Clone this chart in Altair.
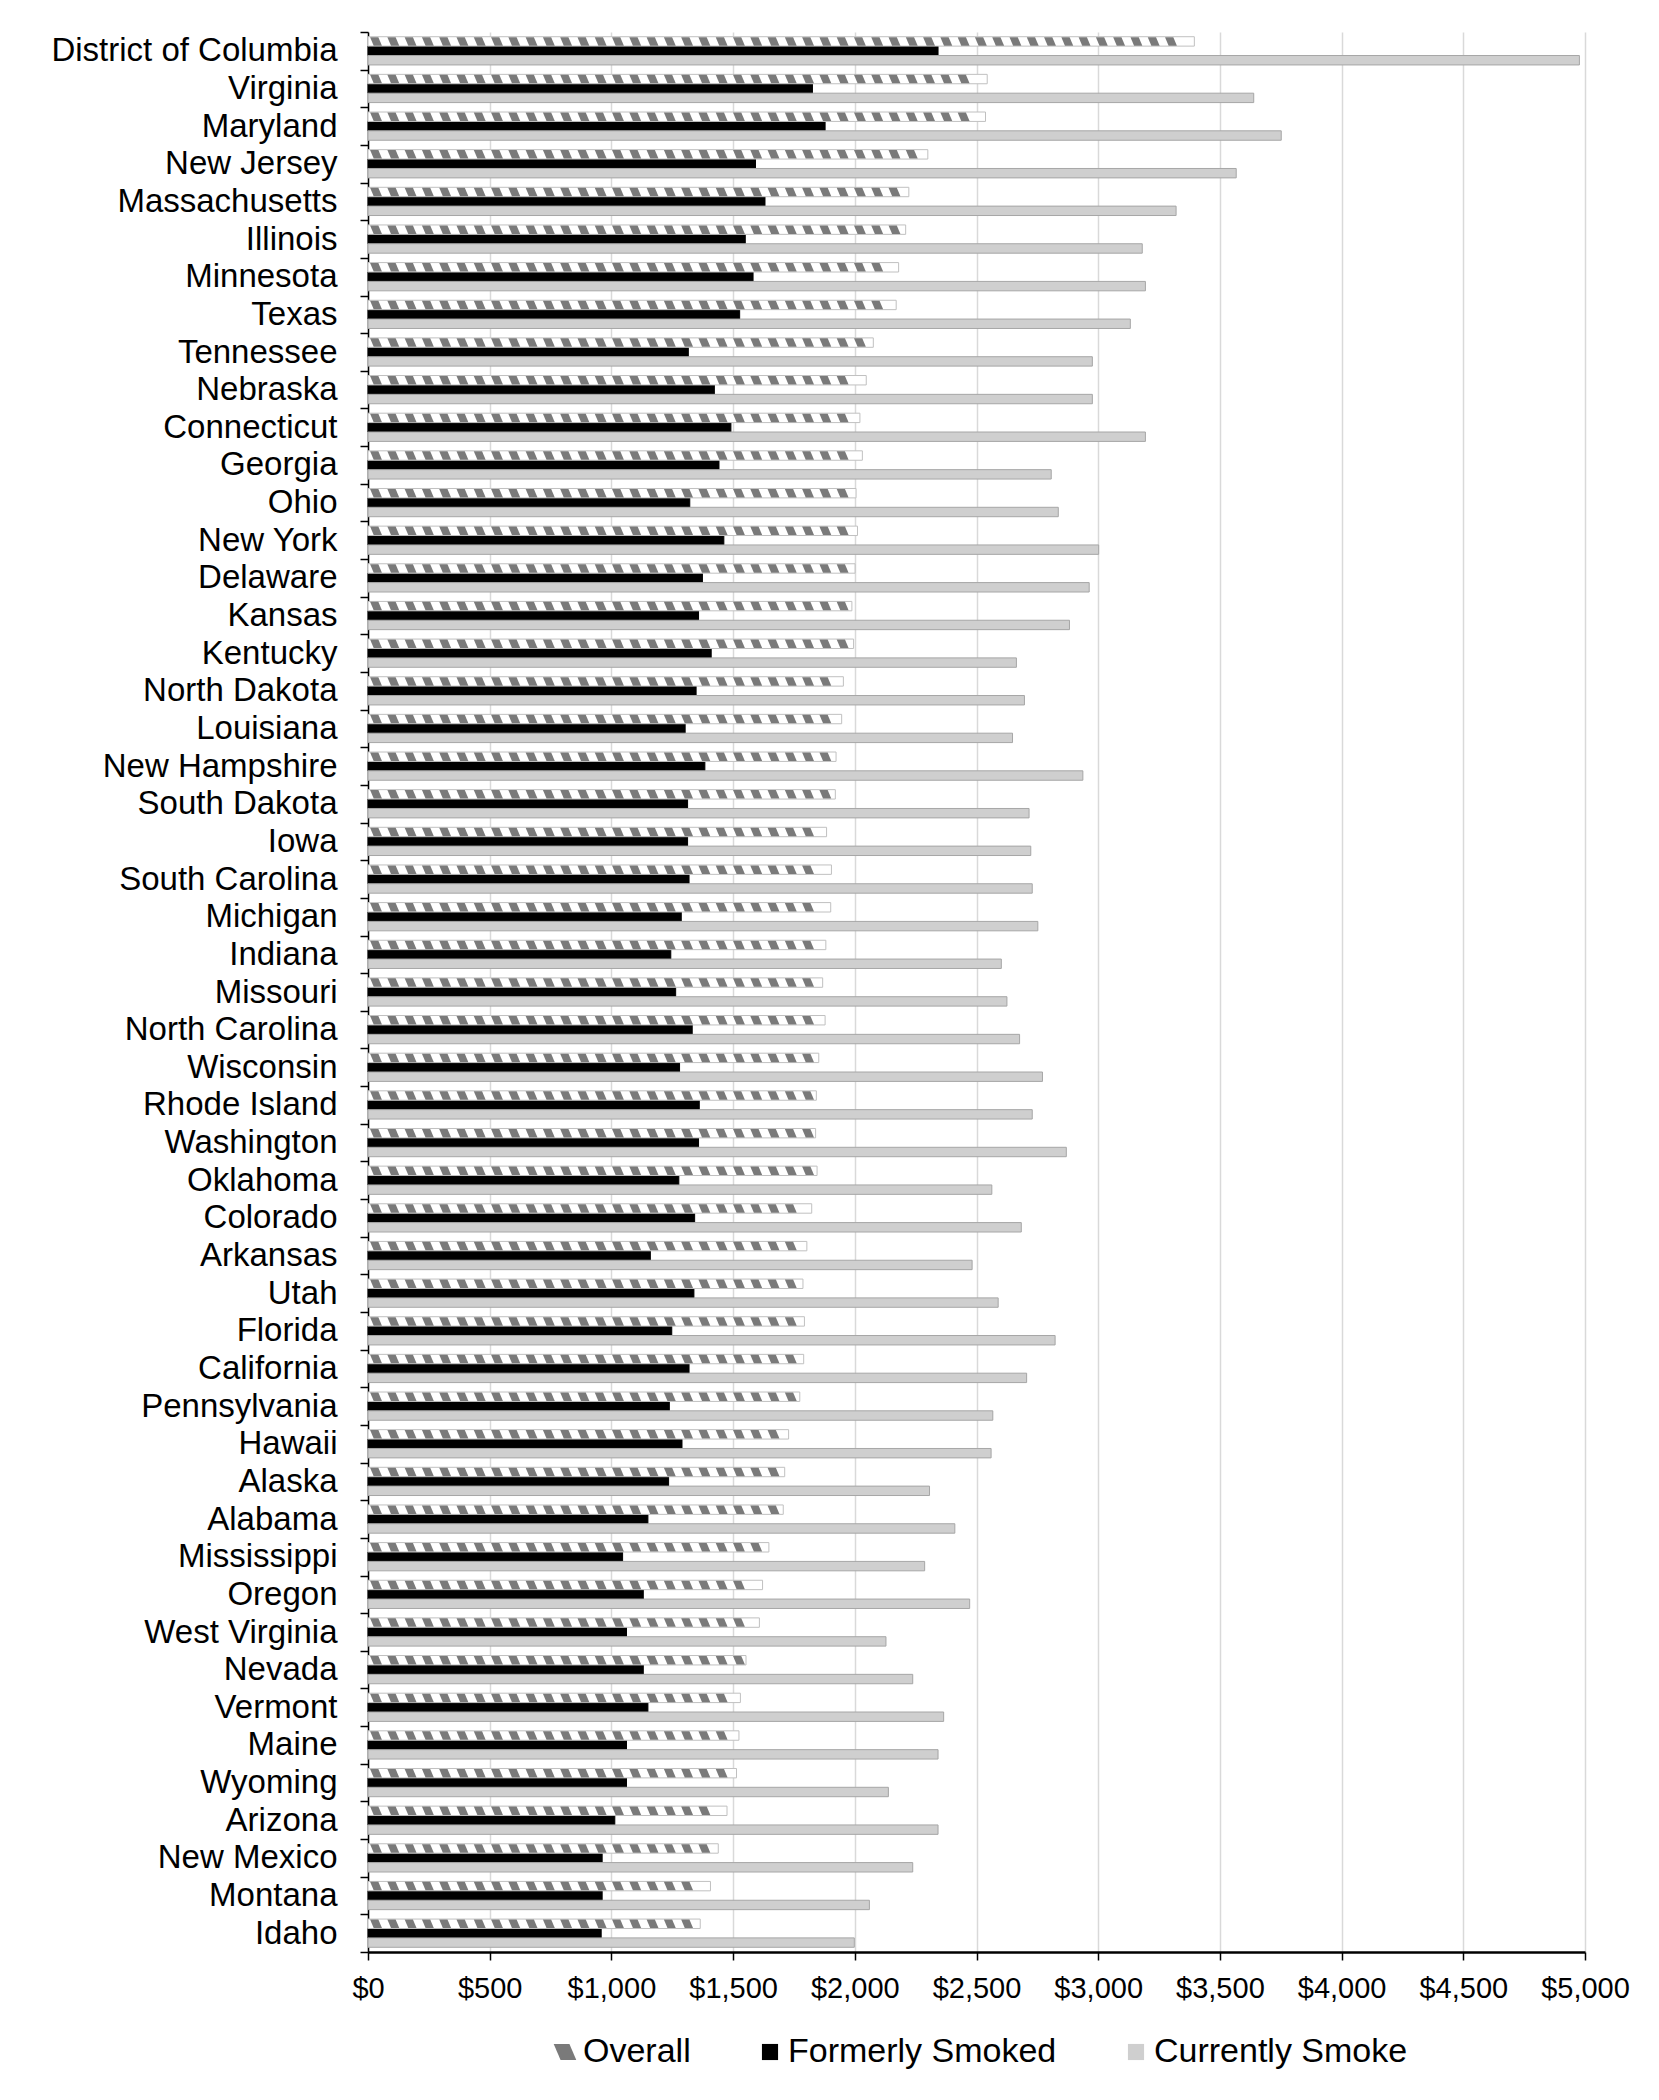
import altair as alt
import pandas as pd

states = ["District of Columbia", "Virginia", "Maryland", "New Jersey", "Massachusetts",
          "Illinois", "Minnesota", "Texas", "Tennessee", "Nebraska", "Connecticut",
          "Georgia", "Ohio", "New York", "Delaware", "Kansas", "Kentucky", "North Dakota",
          "Louisiana", "New Hampshire", "South Dakota", "Iowa", "South Carolina",
          "Michigan", "Indiana", "Missouri", "North Carolina", "Wisconsin", "Rhode Island",
          "Washington", "Oklahoma", "Colorado", "Arkansas", "Utah", "Florida", "California",
          "Pennsylvania", "Hawaii", "Alaska", "Alabama", "Mississippi", "Oregon",
          "West Virginia", "Nevada", "Vermont", "Maine", "Wyoming", "Arizona",
          "New Mexico", "Montana", "Idaho"]

overall = [3395, 2544, 2537, 2300, 2222, 2209, 2180, 2170, 2076, 2047, 2021, 2031, 2005,
           2011, 2001, 1988, 1995, 1953, 1946, 1923, 1920, 1884, 1904, 1901, 1881, 1868,
           1878, 1852, 1842, 1839, 1845, 1823, 1803, 1787, 1793, 1790, 1774, 1728, 1712,
           1706, 1647, 1621, 1608, 1553, 1530, 1524, 1514, 1475, 1439, 1407, 1365]

formerly = [2342, 1826, 1878, 1592, 1631, 1550, 1582, 1527, 1316, 1423, 1491, 1442, 1322,
            1462, 1374, 1358, 1410, 1348, 1303, 1384, 1313, 1313, 1319, 1287, 1244, 1264,
            1332, 1280, 1361, 1358, 1277, 1342, 1160, 1339, 1248, 1319, 1238, 1290, 1235,
            1150, 1046, 1131, 1062, 1131, 1150, 1062, 1062, 1014, 962, 962, 958]

currently = [4977, 3639, 3752, 3567, 3320, 3181, 3194, 3132, 2976, 2976, 3194, 2807, 2836,
             3002, 2963, 2882, 2664, 2697, 2648, 2937, 2716, 2723, 2729, 2752, 2602, 2625,
             2677, 2771, 2729, 2869, 2563, 2684, 2482, 2589, 2823, 2706, 2567, 2560, 2307,
             2411, 2287, 2472, 2128, 2238, 2365, 2342, 2138, 2342, 2238, 2060, 1998]

series = ["Overall", "Formerly Smoked", "Currently Smoke"]
x_ticks = [0, 500, 1000, 1500, 2000, 2500, 3000, 3500, 4000, 4500, 5000]

rows = []
for i, s in enumerate(states):
    rows.append({"state": s, "series": series[0], "value": overall[i]})
    rows.append({"state": s, "series": series[1], "value": formerly[i]})
    rows.append({"state": s, "series": series[2], "value": currently[i]})
df = pd.DataFrame(rows)

FONT = "Liberation Sans"
colors = ["#7a7a7a", "#000000", "#cfcfcf"]
stripe_path = "M-1.4,-1L0.55,-1L1.4,1L-0.55,1Z"

legend = alt.Legend(title=None, orient="none", legendX=180, legendY=2003,
                    direction="horizontal", labelFontSize=34, labelFont=FONT,
                    labelColor="#000000", symbolSize=260, columnPadding=62,
                    labelOffset=1, symbolStrokeWidth=0, labelLimit=800)

y_enc = alt.Y("state:N", sort=states, title=None,
              scale=alt.Scale(paddingInner=0, paddingOuter=0),
              axis=alt.Axis(tickBand="extent", labelFontSize=33, labelFont=FONT,
                            labelColor="#000000", labelPadding=23, tickSize=8,
                            tickWidth=1.5, tickColor="#000000", domainColor="#000000",
                            domainWidth=1.5, grid=False, labelLimit=600))
yoff_enc = alt.YOffset("series:N", sort=series,
                       scale=alt.Scale(domain=series, paddingInner=0, paddingOuter=0.5))
x_scale = alt.Scale(domain=[0, 5000], nice=False)
x_axis = alt.Axis(values=x_ticks, format="$,.0f", labelFontSize=29, labelFont=FONT,
                  labelColor="#000000", labelPadding=14, tickSize=8, tickWidth=1.5,
                  tickColor="#000000", domainColor="#000000", domainWidth=2.5,
                  labelOverlap=False, labelFlush=False,
                  grid=True, gridColor="#d9d9d9", gridWidth=1.5)
color_enc = alt.Color("series:N", scale=alt.Scale(domain=series, range=colors), legend=legend)

base = alt.Chart(df)

bars = base.transform_filter(alt.datum.series != "Overall").mark_bar(strokeWidth=1).encode(
    x=alt.X("value:Q", scale=x_scale, axis=x_axis, title=None),
    y=y_enc,
    yOffset=yoff_enc,
    color=color_enc,
    stroke=alt.condition(alt.datum.series == "Currently Smoke",
                         alt.value("#a6a6a6"), alt.value("#000000")),
)

overall_bars = base.transform_filter(alt.datum.series == "Overall").mark_bar(
    fill="#ffffff", stroke="#c0c0c0", strokeWidth=1
).encode(
    x=alt.X("value:Q", scale=x_scale, axis=x_axis, title=None),
    y=y_enc,
    yOffset=yoff_enc,
)

stripes = base.transform_filter(alt.datum.series == "Overall").transform_calculate(
    k="sequence(0, floor((datum.value - 60) / 71) + 1)"
).transform_flatten(["k"]).transform_calculate(
    pos="datum.k * 71 + 33"
).mark_point(filled=True, size=72, opacity=1, strokeWidth=0).encode(
    x=alt.X("pos:Q", scale=x_scale, axis=x_axis, title=None),
    y=y_enc,
    yOffset=yoff_enc,
    color=color_enc,
    shape=alt.Shape("series:N", scale=alt.Scale(domain=series,
                                                range=[stripe_path, "square", "square"]),
                    legend=legend),
)

chart = alt.layer(bars, overall_bars, stripes).properties(
    width=1217, height=1920,
    padding={"left": 360, "top": 24, "right": 66, "bottom": 140},
    autosize=alt.AutoSizeParams(type="none"),
).configure_view(stroke="transparent")

chart.save("out.html", embed_options={"renderer": "svg", "actions": False})
